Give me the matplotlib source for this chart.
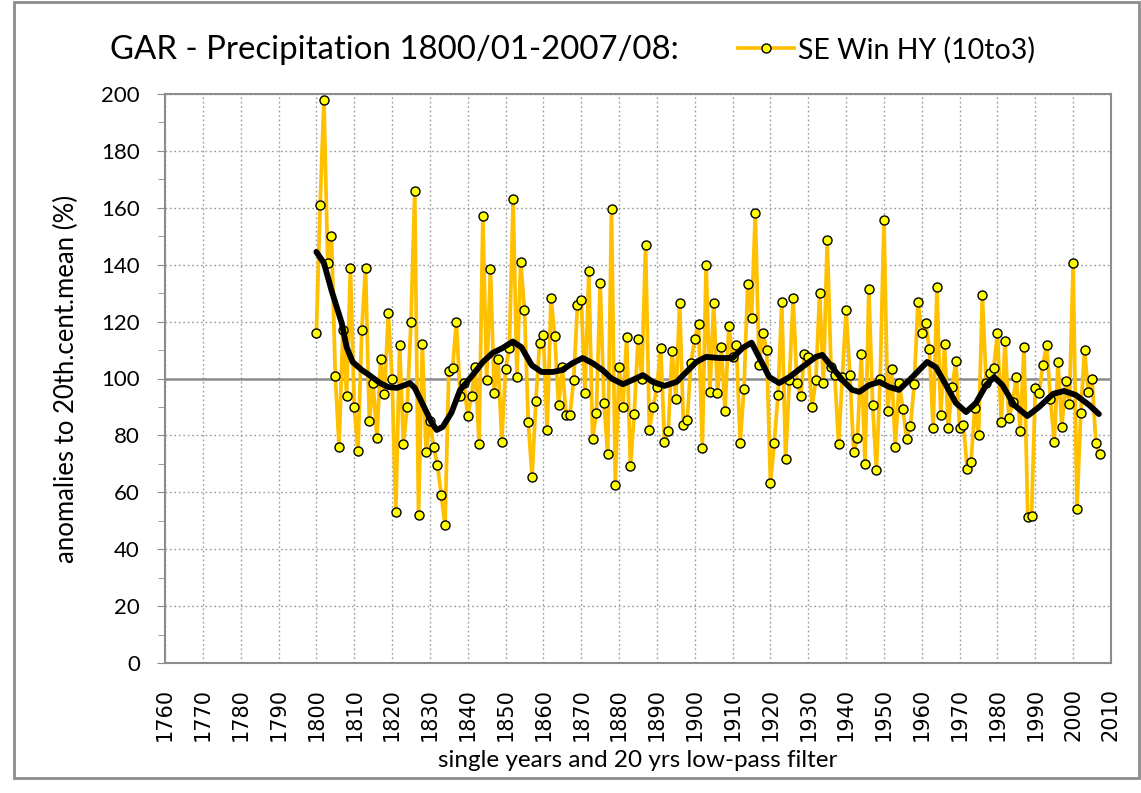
import matplotlib
matplotlib.use("Agg")
import matplotlib.pyplot as plt
from matplotlib.patches import Rectangle
from matplotlib.ticker import MultipleLocator

# single years, 1800..2007
years = list(range(1800, 2008))
precip = [
    116, 161, 198, 140.6, 150, 101, 76, 117, 94, 139,
    90, 74.5, 117, 139, 85, 98.4, 79, 107, 94.6, 123,
    100, 53, 111.8, 77, 90, 120, 166, 52, 112, 74,
    85, 76, 69.6, 59, 48.5, 102.6, 103.7, 120, 94, 98.4,
    86.8, 94, 104, 77, 157, 99.5, 138.6, 95, 107, 77.7,
    103.4, 110.7, 163, 100.5, 141, 124, 84.7, 65.4, 92, 112.5,
    115.3, 82, 128.3, 115, 90.7, 104, 87, 87, 99.5, 125.8,
    127.6, 95, 137.8, 78.7, 87.9, 133.6, 91.4, 73.5, 159.6, 62.6,
    104, 90, 114.6, 69.2, 87.5, 113.9, 100, 147, 82, 90,
    97, 110.7, 77.7, 81.5, 109.7, 92.8, 126.5, 83.7, 85.4, 105.5,
    114, 119.2, 75.6, 140, 95.3, 126.5, 95, 111, 88.6, 118.5,
    107.6, 111.8, 77.3, 96.3, 133.2, 121.3, 158.2, 104.7, 116, 110,
    63.3, 77.3, 94.2, 126.9, 71.7, 99.5, 128.3, 98.4, 93.8, 108.6,
    107.6, 90, 99.5, 130, 98.4, 148.7, 104, 101.2, 77, 100.5,
    124, 101.2, 74, 79, 108.6, 70, 131.5, 90.7, 67.8, 99.8,
    155.7, 88.6, 103.3, 76, 98.4, 89.3, 78.7, 83.3, 98, 127,
    116, 119.5, 110.4, 82.6, 132, 87.2, 112, 82.6, 97, 106,
    82.6, 83.7, 68.2, 70.6, 89.6, 80.2, 129.3, 98.4, 102, 103.7,
    116, 84.7, 113.2, 86.1, 91.7, 100.5, 81.5, 111, 51.3, 51.7,
    96.7, 95, 104.7, 111.8, 92.8, 77.7, 105.8, 83, 99, 91,
    140.7, 54, 87.9, 110, 95.3, 99.8, 77.3, 73.5,
]

# 20 yrs low-pass filter
lp_years = [1800, 1802, 1804, 1806.7, 1808, 1809.6, 1812, 1814, 1816.8, 1819,
            1821.3, 1823.4, 1824.7, 1826, 1828.2, 1830.5, 1831.8, 1833.4, 1835.7, 1838,
            1841.3, 1844, 1846.6, 1849.2, 1851.9, 1854.2, 1856.9, 1859.5, 1862.5, 1865,
            1867.7, 1870.4, 1873, 1875.6, 1878, 1881, 1883.6, 1886.3, 1888.9, 1892,
            1895.2, 1897.8, 1900.4, 1903, 1906.5, 1910, 1912.6, 1915, 1917, 1919.7,
            1922.3, 1925, 1928.4, 1932, 1933.7, 1936.3, 1939, 1941.6, 1943.5, 1946.1,
            1948.8, 1951.4, 1954, 1957.5, 1961.4, 1963.7, 1966.4, 1969, 1971.7, 1974.3,
            1977, 1979.1, 1981.3, 1984.4, 1987.9, 1991, 1994.7, 1997.6, 2000.7, 2004.2,
            2006.8]
lp_vals = [144.5, 140.6, 131, 119.5, 111, 105.8, 103, 101.2, 98.4, 97,
           96.7, 97.7, 98.4, 96.7, 90.7, 84.4, 81.9, 83, 88, 96,
           101.2, 105.8, 109, 110.7, 113, 111, 104.7, 102.3, 102.3, 103,
           105.4, 107.2, 105.4, 103, 100, 98, 99.5, 101.2, 98.8, 97.4,
           98.8, 102.3, 105.8, 107.6, 107.2, 107.2, 110.7, 112.6, 107.5, 100.5,
           98.4, 100.5, 104, 107.6, 108.3, 104, 99.5, 96, 95.3, 97.7,
           98.8, 97, 96, 100.5, 105.8, 104, 97.7, 91.4, 88.2, 91.4,
           97.7, 100.5, 97.7, 90.7, 86.8, 90, 94.6, 95.6, 94.2, 90.7,
           87.5]

W, H = 1141, 793
fig = plt.figure(figsize=(W / 100, H / 100), dpi=100)
plt.rcParams['font.family'] = ['Lato', 'DejaVu Sans']

# outer chart frame
fig.patches.append(Rectangle((14 / W, 1 - 778 / H), (1139 - 14) / W, (778 - 2) / H,
                             transform=fig.transFigure, fill=False,
                             edgecolor='#8c8c8c', linewidth=2))

ax = fig.add_axes([165 / W, 1 - 663 / H, (1111 - 165) / W, (663 - 94) / H])

line, = ax.plot(years, precip, color='#FFC000', linewidth=2.7, marker='o',
                markersize=6.5, markerfacecolor='#FFFF00', markeredgecolor='black',
                markeredgewidth=1.0, zorder=3, label='SE Win HY (10to3)')
ax.plot(lp_years, lp_vals, color='black', linewidth=4.2, zorder=4,
        solid_capstyle='round', solid_joinstyle='round')

ax.set_xlim(1760, 2010)
ax.set_ylim(0, 200)
ax.xaxis.set_major_locator(MultipleLocator(10))
ax.yaxis.set_major_locator(MultipleLocator(20))
ax.yaxis.set_minor_locator(MultipleLocator(10))
ax.grid(True, which='major', color='#9a9a9a', linestyle=(0, (1.2, 2)), linewidth=1.0)
ax.axhline(100, color='#8c8c8c', linewidth=1.8, zorder=2)

for s in ax.spines.values():
    s.set_color('#8c8c8c')
    s.set_linewidth(1.5)

ax.tick_params(axis='y', which='major', direction='out', length=6, color='#8c8c8c',
               labelsize=16, pad=12)
ax.tick_params(axis='y', which='minor', direction='out', length=5, color='#8c8c8c')
ax.tick_params(axis='x', direction='out', length=0, pad=18)
for lbl in ax.get_xticklabels():
    lbl.set_rotation(90)
    lbl.set_family('DejaVu Sans')
    lbl.set_fontsize(15)

ax.set_ylabel('anomalies to 20th.cent.mean (%)', fontsize=18.5, labelpad=16)
ax.set_xlabel('single years and 20 yrs low-pass filter', fontsize=17.5, labelpad=6)

fig.text(110 / W, 1 - 50 / H, 'GAR - Precipitation 1800/01-2007/08:', fontsize=23.8,
         va='center', ha='left')
fig.legend(handles=[line], loc='center left', bbox_to_anchor=(738 / W, 1 - 50 / H),
           frameon=False, fontsize=20.5, handlelength=1.95, handletextpad=0.15,
           borderaxespad=0, borderpad=0)

fig.savefig('out.png', dpi=100)
